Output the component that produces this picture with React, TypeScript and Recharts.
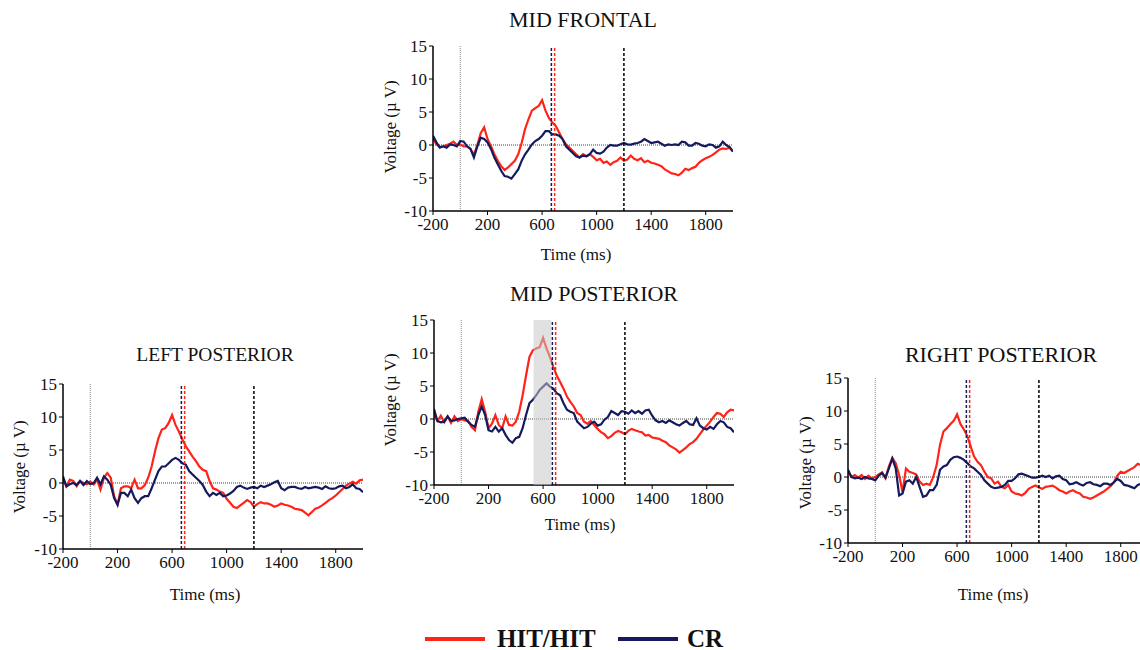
import React from 'react';
import { LineChart, Line, XAxis, YAxis, ReferenceLine, ReferenceArea } from 'recharts';

// time axis (ms), sampled every 25 ms
const TIMES = [
  -200, -175, -150, -125, -100, -75, -50, -25,
  0, 25, 50, 75, 100, 125, 150, 175,
  200, 225, 250, 275, 300, 325, 350, 375,
  400, 425, 450, 475, 500, 525, 550, 575,
  600, 625, 650, 675, 700, 725, 750, 775,
  800, 825, 850, 875, 900, 925, 950, 975,
  1000, 1025, 1050, 1075, 1100, 1125, 1150, 1175,
  1200, 1225, 1250, 1275, 1300, 1325, 1350, 1375,
  1400, 1425, 1450, 1475, 1500, 1525, 1550, 1575,
  1600, 1625, 1650, 1675, 1700, 1725, 1750, 1775,
  1800, 1825, 1850, 1875, 1900, 1925, 1950, 1975,
  2000,
];

const X_TICKS = [-200, 200, 600, 1000, 1400, 1800];
const Y_TICKS = [-10, -5, 0, 5, 10, 15];

// markers
const ONSET_MS = 0;
const CR_LATENCY_MS = 668;
const HIT_LATENCY_MS = 692;
const WINDOW_END_MS = 1200;
const SHADE_MS = [530, 660];

// MID FRONTAL
const MF_HIT = [
  0.9, 0.1, -0.3, -0.2, 0, 0.2, 0.5, 0,
  0.1, -0.2, -0.2, -0.6, -1.5, 0, 1.8, 2.7,
  0.9, -0.2, -1.4, -2.4, -3.2, -3.8, -3.4, -2.9,
  -2.4, -1.4, 0.3, 2.4, 3.9, 5.2, 5.6, 5.9,
  6.8, 5.2, 4.1, 3.4, 2.9, 1.9, 0.9, 0.1,
  -0.4, -0.9, -1.4, -1.9, -1.4, -1.7, -1.4, -1.8,
  -2.3, -2.1, -2.7, -2.5, -3.0, -2.6, -2.4, -1.9,
  -2.4, -2.2, -1.6, -2.1, -2.3, -2.0, -2.6, -2.4,
  -2.7, -2.8, -3.0, -3.2, -3.7, -4.0, -4.3, -4.4,
  -4.6, -4.2, -3.6, -3.8, -3.5, -3.3, -2.7, -2.3,
  -2.0, -1.8, -1.5, -1.1, -0.7, -0.5, -0.6, -0.4,
  -1.0,
];
const MF_CR = [
  1.4, 0.4, -0.4, -0.2, -0.4, 0.1, 0, -0.2,
  0.6, 0.5, -0.2, -0.6, -1.9, -0.2, 1.1, 0.9,
  0.4, -0.6, -1.9, -2.9, -3.9, -4.7, -4.8, -5.1,
  -4.4, -3.7, -2.4, -1.4, -0.7, 0.1, 0.6, 0.9,
  1.4, 2.1, 2.1, 1.6, 1.6, 1.4, 0.9, -0.2,
  -0.7, -1.2, -1.7, -1.9, -1.6, -1.7, -1.4, -0.7,
  -1.2, -1.3, -1.0, -0.4, 0, -0.1, -0.1, 0.1,
  0.3, 0.1, 0.05, 0.2, 0.3, 0.5, 0.9, 0.6,
  0.3, 0.4, 0.5, 0.2, -0.1, 0.1, 0, 0.1,
  0, 0.5, 0.4, -0.1, -0.1, 0.3, 0.2, -0.1,
  -0.2, 0.1, 0, -0.4, -0.2, 0.5, 0, -0.3,
  -1.0,
];

// MID POSTERIOR
const MP_HIT = [
  0.6, -0.3, 0.5, -0.5, 0.4, -0.6, 0.4, -0.3,
  0, -0.2, -0.3, -1.2, -1.7, 1.1, 3.0, 1.1,
  -1.4, -0.7, 0.6, -0.9, -1.4, 0.4, -0.9, -1.0,
  -0.4, 1.1, 3.6, 6.6, 9.4, 10.4, 10.7, 10.9,
  12.3, 10.7, 9.4, 7.9, 6.6, 5.6, 4.6, 3.4,
  2.6, 1.9, 0.9, 0.6, -0.4, -0.7, -0.3, -0.9,
  -1.5, -2.0, -2.3, -2.9, -2.6, -2.1, -1.8, -2.0,
  -2.3, -1.8, -1.5, -1.7, -1.9, -2.0, -2.5, -2.4,
  -2.8, -2.9, -3.0, -3.3, -3.5, -4.0, -4.3, -4.6,
  -5.1, -4.7, -4.3, -3.8, -3.5, -3.0, -2.3, -1.6,
  -1.0, -0.4, 0.3, 0.9, 0.8, 0.3, 1.0, 1.4,
  1.3,
];
const MP_CR = [
  1.5, -0.3, -0.5, -0.4, 0.4, -0.3, -0.2, 0,
  0.1, 0.2, -0.4, -0.9, -1.2, 0.6, 1.9, 0.6,
  -1.7, -1.9, -1.2, -1.9, -1.4, -2.4, -3.2, -3.6,
  -2.9, -2.7, -1.4, 0.6, 2.4, 2.9, 3.6, 4.4,
  4.9, 5.4, 4.9, 4.6, 3.9, 3.6, 2.4, 1.4,
  1.1, 0.9, -0.4, -0.9, -1.4, -1.2, -0.7, -0.4,
  -1.0, -0.8, -0.1, 0.3, 1.2, 0.9, 0.6, 1.2,
  1.1, 0.8, 1.3, 0.9, 1.2, 0.8, 1.3, 1.4,
  0.5, -0.2, -0.5, -0.3, -0.6, -0.2, -0.5, -0.8,
  -1.0, -0.6, -0.3, -0.8, -0.9, 0.1, -1.0, -1.4,
  -1.6, -1.2, -1.5, -0.8, -0.3, -0.5, -1.2, -1.4,
  -2.0,
];

// LEFT POSTERIOR
const LP_HIT = [
  0.5, -0.5, 0.5, 0.3, -0.5, 0.3, 0, -0.2,
  0.2, -0.2, 0.5, -1.0, 0.8, 1.5, 0.8, -2.0,
  -3.3, -0.8, -0.5, -0.5, -0.8, 0.5, -0.8, -0.8,
  -0.3, 0.8, 2.5, 4.8, 6.8, 8.1, 8.3, 9.1,
  10.3, 8.8, 7.8, 6.6, 5.6, 4.8, 4.0, 3.3,
  2.5, 2.0, 1.8, 0.3, -0.8, -1.0, -1.3, -1.5,
  -2.4, -3.0, -3.6, -3.8, -3.4, -3.0, -2.6, -2.9,
  -3.6, -3.2, -2.9, -3.1, -3.1, -3.3, -3.6, -3.4,
  -3.1, -3.3, -3.4, -3.6, -3.9, -4.0, -4.1, -4.5,
  -4.9, -4.4, -3.9, -3.7, -3.4, -3.0, -2.6, -2.3,
  -1.9, -1.4, -0.9, -0.4, -0.1, 0.2, -0.1, 0.4,
  0.5,
];
const LP_CR = [
  1.0, -0.5, -0.2, 0, -0.3, 0.3, -0.3, 0.3,
  -0.2, 0, 0.8, -0.2, 1.0, 0.5, -0.3, -2.3,
  -3.3, -1.5, -1.5, -2.0, -1.0, -2.3, -3.0, -2.3,
  -2.0, -2.0, -0.8, 0.5, 1.8, 2.5, 2.5, 3.0,
  3.5, 3.8, 3.5, 3.0, 2.8, 1.8, 1.3, 0.8,
  0.3, -0.3, -1.3, -2.0, -1.5, -1.8, -1.5, -2.0,
  -1.9, -1.6, -1.2, -0.6, -0.4, -0.7, -0.9, -0.7,
  -0.6, -0.8, -0.4, -0.6, -0.4, -0.2, 0.1, 0.3,
  -0.8, -1.1, -0.7, -0.6, -0.6, -0.8, -0.9, -0.6,
  -0.8, -0.7, -0.6, -0.7, -0.9, -0.5, -0.8, -0.9,
  -0.8, -0.5, -0.4, -0.8, -0.6, -0.2, -0.8, -0.9,
  -1.4,
];

// RIGHT POSTERIOR
const RP_HIT = [
  0.8, 0, 0.3, -0.1, 0.3, -0.3, 0.2, -0.2,
  0, 0.4, 0.7, -0.2, 1.6, 2.9, 2.1, 0.3,
  -2.3, 1.3, 0.8, 0.6, 0.4, -0.7, -1.2, -1.0,
  -1.2, 0, 1.8, 4.9, 6.9, 7.4, 8.0, 8.5,
  9.5, 8.0, 7.2, 6.2, 4.6, 3.1, 2.3, 1.8,
  0.8, 0, -0.2, -1.0, -0.7, -1.5, -1.7, -1.2,
  -2.2, -2.5, -2.6, -2.8, -2.4, -1.8, -1.5, -1.3,
  -1.6, -1.8, -1.5, -1.4, -1.3, -1.6, -2.0, -2.2,
  -2.5, -2.2, -2.0, -2.3, -2.5, -3.0, -3.1, -3.3,
  -3.1, -2.8, -2.5, -2.2, -1.8, -1.4, -0.8, 0.2,
  0.8, 0.6, 0.9, 1.2, 1.5, 2.0, 1.8, 1.5,
  1.6,
];
const RP_CR = [
  1.1, 0, -0.2, -0.1, -0.3, 0, -0.2, -0.3,
  -0.5, 0.2, 0.6, -0.1, 1.3, 2.8, 1.3, -2.8,
  -2.5, -0.7, -0.5, -1.0, 0, -1.5, -3.0, -2.8,
  -2.0, -2.0, -1.2, 1.1, 1.6, 1.8, 2.6, 3.0,
  3.1, 2.9, 2.6, 2.1, 1.6, 1.3, 0.8, 0.3,
  -0.5, -1.0, -1.5, -1.7, -1.6, -1.5, -1.2, -0.6,
  -0.6, -0.2, 0.4, 0.5, 0.3, 0.1, -0.1, -0.1,
  0, 0.2, 0, 0.2, -0.2, 0.1, 0.2, -0.3,
  -0.5, -1.1, -1.0, -0.8, -1.1, -1.3, -0.9, -0.8,
  -1.1, -1.2, -1.4, -1.0, -1.0, -1.2, -0.8, -0.3,
  -0.6, -1.2, -1.3, -1.5, -1.7, -1.2, -1.0, -1.1,
  -1.0,
];

const RED = '#ff2318';
const NAVY = '#141a5c';
const FONT = '"Liberation Serif", "Times New Roman", serif';

const PLOT_W = 300;
const PLOT_H = 165;
const Y_AXIS_W = 60;
const X_AXIS_H = 40;
const TOP_PAD = 10;

function Panel({ title, titleSize, hit, cr, left, top, titleAt, xLabelAt, yLabelAt, shade }) {
  const data = TIMES.map((t, i) => ({ t, hit: hit[i], cr: cr[i] }));
  const text = { position: 'absolute', fontFamily: FONT, color: '#111', whiteSpace: 'nowrap' } as const;
  return (
    <>
      <div
        style={{ ...text, left: titleAt[0], top: titleAt[1], fontSize: titleSize, transform: 'translate(-50%, -50%)' }}
      >
        {title}
      </div>
      <div style={{ position: 'absolute', left: left - Y_AXIS_W, top: top - TOP_PAD }}>
        <LineChart
          width={Y_AXIS_W + PLOT_W + 10}
          height={TOP_PAD + PLOT_H + X_AXIS_H}
          data={data}
          margin={{ top: TOP_PAD, right: 10, left: 0, bottom: 0 }}
        >
          <XAxis
            dataKey="t"
            type="number"
            domain={[-200, 2000]}
            ticks={X_TICKS}
            interval={0}
            height={X_AXIS_H}
            allowDataOverflow
            tickSize={4}
            tickMargin={3}
            axisLine={{ stroke: '#000', strokeWidth: 1.5 }}
            tickLine={{ stroke: '#000' }}
            tick={{ fontSize: 17, fill: '#111', fontFamily: FONT }}
          />
          <YAxis
            type="number"
            domain={[-10, 15]}
            ticks={Y_TICKS}
            interval={0}
            width={Y_AXIS_W}
            allowDataOverflow
            tickSize={4}
            tickMargin={2}
            axisLine={{ stroke: '#000', strokeWidth: 1.5 }}
            tickLine={{ stroke: '#000' }}
            tick={{ fontSize: 17, fill: '#111', fontFamily: FONT }}
          />
          <ReferenceLine y={0} stroke="#444" strokeDasharray="1 1" />
          <ReferenceLine x={ONSET_MS} stroke="#888" strokeDasharray="1 1" />
          <Line dataKey="hit" type="linear" stroke={RED} strokeWidth={2.2} dot={false} isAnimationActive={false} />
          <Line dataKey="cr" type="linear" stroke={NAVY} strokeWidth={2.2} dot={false} isAnimationActive={false} />
          {shade && (
            <ReferenceArea
              x1={shade[0]}
              x2={shade[1]}
              fill="#c8c8c8"
              fillOpacity={0.55}
              stroke="none"
              zIndex={1500}
            />
          )}
          <ReferenceLine x={CR_LATENCY_MS} stroke={NAVY} strokeWidth={1.5} strokeDasharray="3 2" />
          <ReferenceLine x={HIT_LATENCY_MS} stroke={RED} strokeWidth={1.5} strokeDasharray="3 2" />
          <ReferenceLine x={WINDOW_END_MS} stroke="#000" strokeWidth={1.5} strokeDasharray="3 2" />
        </LineChart>
      </div>
      <div style={{ ...text, left: xLabelAt[0], top: xLabelAt[1], fontSize: 17, transform: 'translate(-50%, -50%)' }}>
        Time (ms)
      </div>
      <div
        style={{
          ...text,
          left: yLabelAt[0],
          top: yLabelAt[1],
          fontSize: 17,
          transform: 'translate(-50%, -50%) rotate(-90deg)',
        }}
      >
        Voltage (µ V)
      </div>
    </>
  );
}

const legendText = {
  position: 'absolute',
  top: 629,
  height: 20,
  lineHeight: '20px',
  fontFamily: FONT,
  fontWeight: 700,
  fontSize: 25,
  color: '#111',
} as const;

export default function App() {
  return (
    <div
      style={{
        position: 'absolute',
        left: 0,
        top: 0,
        width: 1140,
        height: 650,
        overflow: 'hidden',
        background: '#fff',
      }}
    >
      <Panel
        title="MID FRONTAL"
        titleSize={22}
        hit={MF_HIT}
        cr={MF_CR}
        left={433}
        top={46}
        titleAt={[583, 20]}
        xLabelAt={[576, 255]}
        yLabelAt={[391, 127]}
      />
      <Panel
        title="MID POSTERIOR"
        titleSize={22}
        hit={MP_HIT}
        cr={MP_CR}
        left={434}
        top={320}
        titleAt={[594, 294]}
        xLabelAt={[580, 525]}
        yLabelAt={[391, 400]}
        shade={SHADE_MS}
      />
      <Panel
        title="LEFT POSTERIOR"
        titleSize={19.5}
        hit={LP_HIT}
        cr={LP_CR}
        left={63}
        top={384}
        titleAt={[215, 355]}
        xLabelAt={[205, 595]}
        yLabelAt={[20, 467]}
      />
      <Panel
        title="RIGHT POSTERIOR"
        titleSize={22}
        hit={RP_HIT}
        cr={RP_CR}
        left={848}
        top={378}
        titleAt={[1001, 355]}
        xLabelAt={[993, 595]}
        yLabelAt={[806, 463]}
      />

      {/* legend */}
      <div style={{ position: 'absolute', left: 425, top: 637, width: 60, height: 4, background: RED }} />
      <div style={{ ...legendText, left: 497 }}>HIT/HIT</div>
      <div style={{ position: 'absolute', left: 618, top: 637, width: 60, height: 4, background: NAVY }} />
      <div style={{ ...legendText, left: 687 }}>CR</div>
    </div>
  );
}
